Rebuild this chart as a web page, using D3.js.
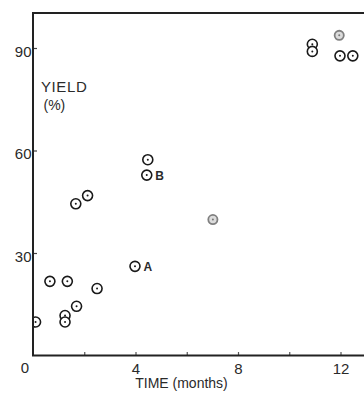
<!DOCTYPE html>
<html>
<head>
<meta charset="utf-8">
<script src="https://cdn.jsdelivr.net/npm/d3@7/dist/d3.min.js"></script>
<style>
  html, body { margin: 0; padding: 0; background: #fff; }
  svg { display: block; }
  text { font-family: "Liberation Sans", Arial, sans-serif; fill: #2a2a2a; }
</style>
</head>
<body>
<svg id="chart" width="364" height="397"></svg>
<script>
// Yield (%) against storage time (months)
const timeMonths = [0.1, 0.66, 1.34, 1.25, 1.25, 1.7, 2.5, 1.67, 2.13, 3.98, 4.44, 4.48, 10.9, 10.9, 11.98, 12.48];
const yieldPct   = [9.8, 21.7, 21.7, 11.7, 9.8, 14.4, 19.6, 44.4, 46.8, 26.1, 52.8, 57.3, 91.1, 89.0, 87.7, 87.7];
// lighter (grey) observations
const greyTime  = [7.02, 11.95];
const greyYield = [39.8, 93.7];
// lettered points: index into the main series
const labelIndex = [9, 10];
const labelText  = ["A", "B"];

const xTicks = [2, 4, 6, 8, 10, 12];
const xTickLabels = [4, 8, 12];
const yTicks = [30, 60, 90];

const svg = d3.select("#chart");
const W = 364, H = 397;
const plotLeft = 33, plotTop = 13, plotBottom = 355.5;

const x = d3.scaleLinear().domain([0, 12]).range([plotLeft, 340.5]);
const y = d3.scaleLinear().domain([0, 90]).range([plotBottom, 48]);

svg.append("defs").append("clipPath").attr("id", "plot")
  .append("rect").attr("x", plotLeft).attr("y", plotTop)
  .attr("width", W - plotLeft).attr("height", plotBottom - plotTop);

// points
const pts = svg.append("g").attr("clip-path", "url(#plot)");
const main = timeMonths.map((t, i) => ({ t, v: yieldPct[i] }));
const grey = greyTime.map((t, i) => ({ t, v: greyYield[i] }));

grey.forEach(d => {
  pts.append("circle")
    .attr("cx", x(d.t)).attr("cy", y(d.v)).attr("r", 4.6)
    .attr("fill", "#dcdcdc").attr("stroke", "#808080").attr("stroke-width", 1.8);
  pts.append("circle")
    .attr("cx", x(d.t)).attr("cy", y(d.v)).attr("r", 1)
    .attr("fill", "#777");
});

main.forEach(d => {
  pts.append("circle")
    .attr("cx", x(d.t)).attr("cy", y(d.v)).attr("r", 5)
    .attr("fill", "#fff").attr("stroke", "#1a1a1a").attr("stroke-width", 1.6);
  pts.append("circle")
    .attr("cx", x(d.t)).attr("cy", y(d.v)).attr("r", 1)
    .attr("fill", "#1a1a1a");
});

// point letters
svg.selectAll("text.pl").data(labelIndex).join("text")
  .attr("class", "pl")
  .attr("x", i => x(timeMonths[i]) + 8.5)
  .attr("y", i => y(yieldPct[i]) + 5)
  .attr("font-size", 12).attr("font-weight", "bold")
  .text((i, k) => labelText[k]);

// axes
const xAxis = d3.axisBottom(x).tickValues(xTicks).tickSize(-3.5)
  .tickFormat(d => xTickLabels.includes(d) ? d : "");
const gx = svg.append("g").attr("transform", `translate(0,${plotBottom})`).call(xAxis);
gx.select(".domain").remove();
gx.selectAll(".tick line").attr("stroke", "#555").attr("stroke-width", 1.2);
gx.selectAll(".tick text").attr("y", 18).attr("dy", 0)
  .attr("font-size", 15).attr("font-family", "Liberation Sans, Arial, sans-serif").attr("fill", "#2a2a2a");

const yAxis = d3.axisLeft(y).tickValues(yTicks).tickSize(-4).tickPadding(1.5);
const gy = svg.append("g").attr("transform", `translate(${plotLeft},0)`).call(yAxis);
gy.select(".domain").remove();
gy.selectAll(".tick line").attr("stroke", "#444").attr("stroke-width", 1.2);
gy.selectAll(".tick text").attr("dy", "0.56em")
  .attr("font-size", 15).attr("font-family", "Liberation Sans, Arial, sans-serif").attr("fill", "#2a2a2a");

// frame: left, top and bottom lines
svg.append("path")
  .attr("d", `M${W},${plotTop}H${plotLeft}V${plotBottom}H${W}`)
  .attr("fill", "none").attr("stroke", "#222").attr("stroke-width", 2);

// origin label
svg.append("text").attr("x", 25).attr("y", 372.5).attr("text-anchor", "middle")
  .attr("font-size", 15).text("0");

// axis titles
svg.append("text").attr("x", 41).attr("y", 92).attr("font-size", 15)
  .attr("letter-spacing", 0.6).text("YIELD");
svg.append("text").attr("x", 43.5).attr("y", 109.5).attr("font-size", 14).text("(%)");
svg.append("text").attr("x", 181.5).attr("y", 387.5).attr("text-anchor", "middle")
  .attr("font-size", 14).text("TIME (months)");
</script>
</body>
</html>
